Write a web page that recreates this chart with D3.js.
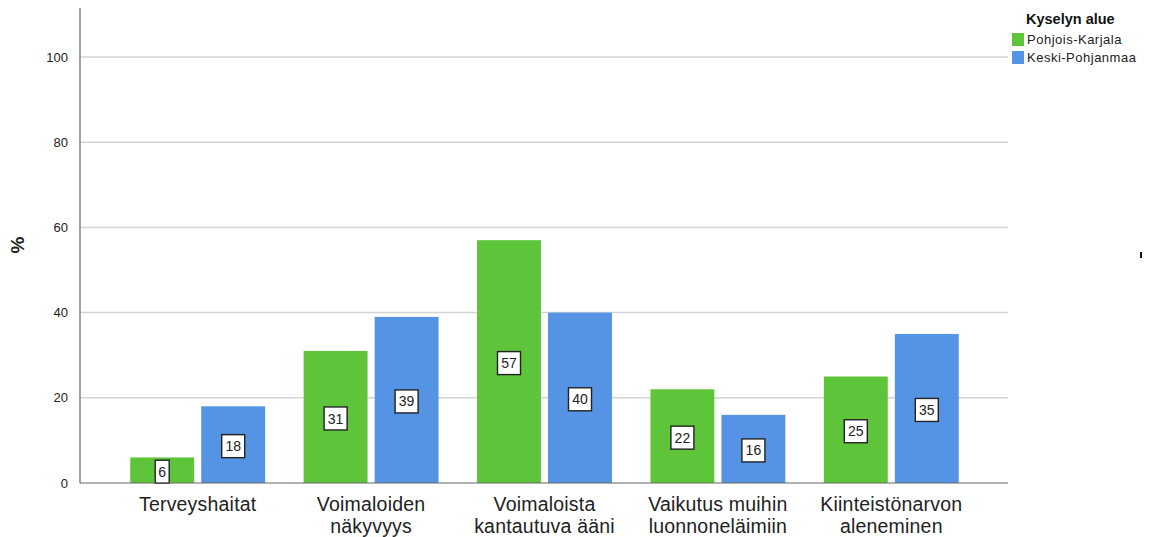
<!DOCTYPE html>
<html><head><meta charset="utf-8">
<script src="https://cdn.jsdelivr.net/npm/d3@7"></script>
<style>body{margin:0;background:#fff}svg{display:block}text{font-family:"Liberation Sans",Arial,sans-serif}</style>
</head><body><svg id="c" width="1149" height="537"></svg>
<script>
const categories = [["Terveyshaitat"],["Voimaloiden","näkyvyys"],["Voimaloista","kantautuva ääni"],["Vaikutus muihin","luonnoneläimiin"],["Kiinteistönarvon","aleneminen"]];
const seriesNames = ["Pohjois-Karjala","Keski-Pohjanmaa"];
const pohjoisKarjala = [6,31,57,22,25];
const keskiPohjanmaa = [18,39,40,16,35];
const yTicks = [0,20,40,60,80,100];
const colors = ["#5ec43a","#5594e4"];

const svg = d3.select("#c");
const axL = 80, axR = 1008, y0 = 483;
const y = d3.scaleLinear().domain([0,100]).range([y0,57]);
const x = d3.scaleBand().domain(d3.range(categories.length)).range([111,978]).paddingInner(0.222).paddingOuter(0.111);
const x1 = d3.scaleBand().domain([0,1]).range([0,x.bandwidth()]).paddingInner(0.1);

// gridlines
svg.append("g").selectAll("line").data(yTicks.filter(d=>d>0)).join("line")
  .attr("x1",axL).attr("x2",axR).attr("y1",d=>y(d)).attr("y2",d=>y(d))
  .attr("stroke","#d4d4d4").attr("stroke-width",1.5);

// y axis
const ya = svg.append("g").attr("transform",`translate(${axL},0)`)
  .call(d3.axisLeft(y).tickValues(yTicks).tickSize(0).tickPadding(12));
ya.select(".domain").remove();
ya.selectAll("text").attr("font-size",13).attr("fill","#222").attr("font-family","Liberation Sans, Arial, sans-serif");
svg.append("line").attr("x1",axL).attr("x2",axL).attr("y1",8).attr("y2",y0).attr("stroke","#666").attr("stroke-width",1.2);

svg.append("text").attr("transform","translate(24,245) rotate(-90)").attr("text-anchor","middle")
  .attr("font-size",19).attr("font-weight","bold").attr("fill","#222").text("%");

const data = categories.map((c,i)=>[pohjoisKarjala[i],keskiPohjanmaa[i]]);
const groups = svg.append("g").selectAll("g").data(data).join("g").attr("transform",(d,i)=>`translate(${x(i)},0)`);
groups.selectAll("rect").data(d=>d).join("rect")
  .attr("x",(d,j)=>x1(j)).attr("width",x1.bandwidth())
  .attr("y",d=>y(d)).attr("height",d=>y0-y(d))
  .attr("fill",(d,j)=>colors[j]);

// value labels
const lab = groups.selectAll("g.lab").data(d=>d).join("g").attr("class","lab")
  .attr("transform",(d,j)=>`translate(${x1(j)+x1.bandwidth()/2},${(y(d)+y0)/2+1.5})`);
lab.append("rect").attr("x",d=>String(d).length>1?-11.5:-7).attr("width",d=>String(d).length>1?23:14)
  .attr("y",-11.5).attr("height",23).attr("fill","#fff").attr("stroke","#222").attr("stroke-width",1.4);
lab.append("text").attr("text-anchor","middle").attr("dy","0.36em").attr("font-size",14).attr("fill","#222").text(d=>d);

// bottom axis
svg.append("line").attr("x1",axL).attr("x2",axR).attr("y1",y0).attr("y2",y0).attr("stroke","#666").attr("stroke-width",1.2);
const xl = svg.append("g").selectAll("text").data(categories).join("text")
  .attr("x",(d,i)=>x(i)+x.bandwidth()/2).attr("y",511).attr("text-anchor","middle")
  .attr("font-size",19.5).attr("letter-spacing",0.2).attr("fill","#222");
xl.selectAll("tspan").data(d=>d).join("tspan").attr("x",function(){return this.parentNode.getAttribute("x");})
  .attr("dy",(d,k)=>k?21.5:0).text(d=>d);

// legend
svg.append("text").attr("x",1026).attr("y",24).attr("font-size",14.5).attr("font-weight","bold").attr("fill","#111").text("Kyselyn alue");
const lg = svg.append("g").selectAll("g").data(seriesNames).join("g").attr("transform",(d,i)=>`translate(1012,${33+i*18})`);
lg.append("rect").attr("width",12).attr("height",13).attr("fill",(d,i)=>colors[i]);
lg.append("text").attr("x",15).attr("y",11).attr("font-size",13).attr("letter-spacing",0.5).attr("fill","#222").text(d=>d);

svg.append("rect").attr("x",1140).attr("y",252).attr("width",2).attr("height",6).attr("fill","#111");
</script></body></html>
